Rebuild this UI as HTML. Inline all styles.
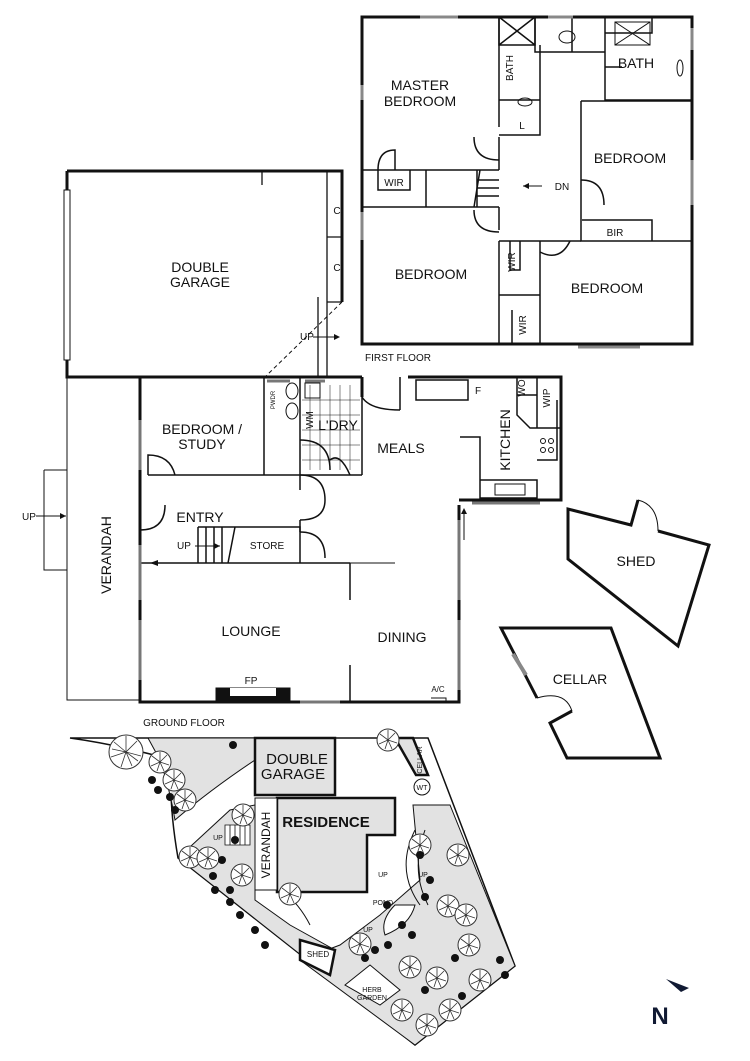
<!DOCTYPE html>
<html><head><meta charset="utf-8"><style>
html,body{margin:0;padding:0;background:#fff}
svg{display:block}
text{font-family:"Liberation Sans",sans-serif;fill:#111}
</style></head><body>
<svg width="750" height="1061" viewBox="0 0 750 1061" xmlns="http://www.w3.org/2000/svg">
<defs>
<g id="tr"><circle r="11" fill="#fff" stroke="#333" stroke-width="1"/><path d="M0 0L-8-6M0 0L7-7M0 0L9 3M0 0L-3 9M0 0L4 9M0 0L-9 4M0 0L0-10" stroke="#333" stroke-width="0.8"/></g>
<g id="bt"><circle r="17" fill="#fff" stroke="#333" stroke-width="1"/><path d="M0 0L-12-10M0 0L11-11M0 0L15 4M0 0L-5 15M0 0L6 14M0 0L-15 5M0 0L0-16M0 0L-14-3M0 0L12 9" stroke="#333" stroke-width="0.8"/></g>
</defs>
<g fill="none" stroke="#111">
<!-- FIRST FLOOR -->
<rect x="362" y="17" width="330" height="327" stroke-width="3"/>
<g stroke-width="1.5">
<path d="M499 17V127M499 137V170M362 170H499M362 207H499M477 170V207M499 207V230"/>
<path d="M378 170V190H410V170M395 170V150Q378 150 378 170"/>
<path d="M426 170V207"/>
<path d="M477 180L499 180M477 188H499M477 196H499M474 207L480 170"/>
<path d="M499 17V45H535V17M499 45L535 17M499 17L535 45"/>
<path d="M535 17V52H572V17M572 52H605M605 17V100H692M605 33H652V17M605 67H622M605 100V88"/>
<path d="M499 100H540V135H499M540 100V45"/>
<path d="M581 101H692M581 101V241H692M582 220H652V241"/>
<path d="M499 241H581M540 241V344M499 241V344M499 295H540M510 241V270H520V241M512 310V344H522"/>
<path d="M581 180Q604 180 604 205"/>
<path d="M474 137Q474 160 499 160M474 210Q474 232 499 232M540 252Q560 262 570 241"/>
</g>
<ellipse cx="567" cy="37" rx="8" ry="6" stroke-width="1"/>
<ellipse cx="525" cy="102" rx="7" ry="4" stroke-width="1"/>
<ellipse cx="680" cy="68" rx="3" ry="8" stroke-width="1"/>
<path d="M615 22H650V45H615Z M615 22L650 45M615 45L650 22" stroke-width="1"/>
<path d="M420 17H458M548 17H573M578 347H640M692 28V50M692 160V205M362 100V85M362 212V240" stroke-width="3" stroke="#888"/>
<!-- GROUND: garage -->
<path d="M67 171H342V302M67 171V377H342" stroke-width="3"/>
<rect x="64" y="190" width="6" height="170" fill="#fff" stroke-width="1"/>
<path d="M262 171V185M327 171V302M327 237H342M327 302H342M318 297V377H327V302" stroke-width="1.3"/>
<path d="M342 302L265 377" stroke-dasharray="4 3" stroke-width="1"/>
<path d="M313 337H336" stroke-width="1"/>
<!-- main house -->
<path d="M67 377V700H140M44 470V570H67M44 470H67" stroke-width="1"/>
<path d="M140 377V702H459V505M140 377H362M362 377V397M408 377H561V500H459" stroke-width="3"/>
<g stroke-width="1.5">
<path d="M264 377V475M148 475H264M148 475V455Q170 455 175 475"/>
<path d="M300 377V475M362 377V475M300 475H362M264 475H300V490M300 520V532"/>
<path d="M300 475Q325 475 325 500Q325 520 300 520"/>
<path d="M140 530Q165 530 165 505"/>
<path d="M198 527H300V563M198 527V563M140 563H350M350 563V600M350 665V702M459 610V560"/>
<path d="M235 527L228 563M206 527V563M214 527V563M222 527V563"/>
<path d="M300 532Q325 532 325 558"/>
<path d="M362 397Q370 410 400 410M400 410V377"/>
<path d="M416 380H468V400H416Z"/>
<path d="M460 437H480V500M480 437V500M480 480H537V498H480M517 377V395H537M517 395V415L530 428H561M537 377V428"/>
<path d="M537 460H557V400"/>
<path d="M300 440Q330 440 330 470M330 460Q340 452 350 475"/>
</g>
<rect x="216" y="688" width="74" height="15" fill="#111"/>
<rect x="230" y="688" width="46" height="8" fill="#fff" stroke="none"/>
<path d="M140 420V470M140 545V600M140 620V680M459 520V600M459 620V690M300 702H340M472 503H540M267 381H290M305 381H325" stroke-width="3" stroke="#777"/>
<path d="M431 698H446V702" stroke-width="1"/>
<circle cx="543" cy="441" r="2.5" stroke-width="1"/><circle cx="551" cy="441" r="2.5" stroke-width="1"/><circle cx="543" cy="450" r="2.5" stroke-width="1"/><circle cx="551" cy="450" r="2.5" stroke-width="1"/>
<rect x="495" y="484" width="30" height="11" stroke-width="1"/>
<ellipse cx="292" cy="391" rx="6" ry="8" stroke-width="1"/>
<ellipse cx="292" cy="411" rx="6" ry="8" stroke-width="1"/>
<rect x="305" y="383" width="15" height="15" stroke-width="1"/>
<path d="M310 385V470M320 385V470M330 385V470M340 385V470M350 385V470M302 400H360M302 415H360M302 430H360M302 445H360M302 460H360" stroke-width="0.5"/>
<path d="M395 563H150M220 546H195M464 540V510" stroke-width="1"/>
<path d="M150 563l8-3v6z M220 546l-6-3v6z M464 508l-3 6h6z M340 337l-6-3v6z M66 516l-6-3v6z" fill="#111" stroke="none"/>
<path d="M36 516H66" stroke-width="1"/>
<path d="M523 186H542" stroke-width="1"/>
<path d="M523 186l6-3v6z" fill="#111" stroke="none"/>
<!-- shed & cellar -->
<path d="M638 500L631 525L568 509V559L678 646L709 545L658 531" stroke-width="3"/>
<path d="M638 500Q658 505 658 531" stroke-width="1"/>
<path d="M537 698L501 628H611L660 758H567L550 723L572 711" stroke-width="3"/>
<path d="M537 698Q565 690 572 711" stroke-width="1"/>
<path d="M513 654L526 675" stroke-width="4" stroke="#888"/>
<!-- SITE PLAN -->
<path d="M70 738H428L515 966L415 1045L178 858Q168 800 172 760Q120 745 70 738Z" stroke-width="1.5" fill="#fff"/>
<path d="M148 738H255V760Q210 790 175 820Q170 790 160 760Z" fill="#e2e2e2" stroke-width="1"/>
<path d="M178 858L230 810L255 805V900L290 925L335 950L415 1045Z" fill="#e2e2e2" stroke-width="1"/>
<path d="M413 805L450 805L515 966L415 1045L300 960L340 945L380 915L420 880Z" fill="#e2e2e2" stroke-width="1"/>
<path d="M255 738H335V795H255Z" fill="#e2e2e2" stroke-width="2.5"/>
<path d="M277 798H395V835H367V892H277Z" fill="#e2e2e2" stroke-width="2.5"/>
<path d="M255 798H277V890H255Z" fill="#fff" stroke-width="1"/>
<path d="M395 738L413 738L428 775H416Z" fill="#e2e2e2" stroke-width="2.5"/>
<path d="M300 940L335 950L330 975L300 960Z" fill="#fff" stroke-width="2.5"/>
<path d="M345 985L370 965L400 990L380 1005Z" fill="#fff" stroke-width="1"/>
<path d="M415 830Q395 870 420 905M425 830Q410 870 428 905" stroke-width="1"/>
<path d="M395 905Q380 920 385 935Q410 925 415 905Z" fill="#fff" stroke-width="1"/>
<path d="M282 890Q300 905 310 925" stroke-width="1"/>
<path d="M225 825H250V845H225Z M230 825V845M235 825V845M240 825V845M245 825V845" stroke-width="0.8" fill="#fff"/>
<circle cx="422" cy="787" r="8" fill="#fff" stroke-width="1"/>
</g>
<!-- trees -->
<use href="#bt" x="126" y="752"/>
<use href="#tr" x="388" y="740"/>
<use href="#tr" x="160" y="762"/>
<use href="#tr" x="174" y="780"/><use href="#tr" x="185" y="800"/>
<use href="#tr" x="190" y="857"/><use href="#tr" x="208" y="858"/><use href="#tr" x="242" y="875"/>
<use href="#tr" x="243" y="815"/><use href="#tr" x="290" y="894"/><use href="#tr" x="458" y="855"/>
<use href="#tr" x="448" y="906"/><use href="#tr" x="466" y="915"/><use href="#tr" x="437" y="978"/>
<use href="#tr" x="469" y="945"/><use href="#tr" x="410" y="967"/><use href="#tr" x="402" y="1010"/>
<use href="#tr" x="450" y="1010"/><use href="#tr" x="480" y="980"/><use href="#tr" x="427" y="1025"/>
<use href="#tr" x="420" y="845"/><use href="#tr" x="360" y="944"/>
<g fill="#111">
<circle cx="233" cy="745" r="4"/><circle cx="152" cy="780" r="4"/><circle cx="158" cy="790" r="4"/><circle cx="170" cy="797" r="4"/><circle cx="175" cy="810" r="4"/>
<circle cx="213" cy="876" r="4"/><circle cx="215" cy="890" r="4"/><circle cx="230" cy="902" r="4"/><circle cx="240" cy="915" r="4"/><circle cx="255" cy="930" r="4"/><circle cx="265" cy="945" r="4"/>
<circle cx="235" cy="840" r="4"/><circle cx="222" cy="860" r="4"/><circle cx="230" cy="890" r="4"/>
<circle cx="420" cy="855" r="4"/><circle cx="430" cy="880" r="4"/><circle cx="425" cy="897" r="4"/><circle cx="387" cy="905" r="4"/>
<circle cx="402" cy="925" r="4"/><circle cx="412" cy="935" r="4"/><circle cx="388" cy="945" r="4"/><circle cx="375" cy="950" r="4"/>
<circle cx="455" cy="958" r="4"/><circle cx="425" cy="990" r="4"/><circle cx="462" cy="996" r="4"/><circle cx="500" cy="960" r="4"/><circle cx="505" cy="975" r="4"/><circle cx="365" cy="958" r="4"/>
</g>
<!-- labels -->
<g font-size="14" text-anchor="middle">
<text x="420" y="90">MASTER</text><text x="420" y="106">BEDROOM</text>
<text x="630" y="163">BEDROOM</text><text x="431" y="279">BEDROOM</text><text x="607" y="293">BEDROOM</text>
<text x="636" y="68">BATH</text>
<text x="200" y="272">DOUBLE</text><text x="200" y="287">GARAGE</text>
<text x="202" y="434">BEDROOM /</text><text x="202" y="449">STUDY</text>
<text x="200" y="522">ENTRY</text><text x="251" y="636">LOUNGE</text><text x="402" y="642">DINING</text>
<text x="401" y="453">MEALS</text><text x="338" y="430">L'DRY</text>
<text x="636" y="566">SHED</text><text x="580" y="684">CELLAR</text>
<text x="297" y="764" font-size="15">DOUBLE</text><text x="293" y="779" font-size="15">GARAGE</text>
<text x="326" y="827" font-size="15" font-weight="bold">RESIDENCE</text>
</g>
<g font-size="10" text-anchor="middle">
<text x="394" y="186">WIR</text><text x="522" y="129">L</text><text x="615" y="236">BIR</text>
<text x="562" y="190">DN</text><text x="337" y="214">C</text><text x="337" y="271">C</text>
<text x="307" y="340">UP</text><text x="29" y="520">UP</text><text x="184" y="549">UP</text>
<text x="267" y="549">STORE</text><text x="251" y="684">FP</text><text x="478" y="394">F</text>
<text x="398" y="361">FIRST FLOOR</text><text x="184" y="726">GROUND FLOOR</text>
<text x="438" y="692" font-size="8">A/C</text>
</g>
<g font-size="10" text-anchor="middle">
<text transform="translate(513 68) rotate(-90)">BATH</text>
<text transform="translate(515 262) rotate(-90)">WIR</text>
<text transform="translate(526 325) rotate(-90)">WIR</text>
<text transform="translate(313 420) rotate(-90)">WM</text>
<text transform="translate(275 400) rotate(-90)" font-size="6">PWDR</text>
<text transform="translate(550 398) rotate(-90)">WIP</text>
<text transform="translate(525 388) rotate(-90)">WO</text>
</g>
<text transform="translate(510 440) rotate(-90)" font-size="14" text-anchor="middle">KITCHEN</text>
<text transform="translate(111 555) rotate(-90)" font-size="14" text-anchor="middle">VERANDAH</text>
<text transform="translate(270 845) rotate(-90)" font-size="12" text-anchor="middle">VERANDAH</text>
<text transform="translate(422 760) rotate(-90)" font-size="7" text-anchor="middle">CELLAR</text>
<g font-size="7" text-anchor="middle">
<text x="422" y="790">WT</text><text x="218" y="840">UP</text><text x="383" y="877">UP</text><text x="423" y="877">UP</text>
<text x="383" y="905">POND</text><text x="368" y="932">UP</text><text x="318" y="957" font-size="8">SHED</text>
<text x="372" y="992">HERB</text><text x="372" y="1000">GARDEN</text>
</g>
<text x="660" y="1024" font-family="Liberation Serif,serif" font-size="24" font-weight="bold" text-anchor="middle" style="fill:#111a33">N</text>
<path d="M666 979L689 988L681 992Z" fill="#111a33"/>
</svg>
</body></html>
